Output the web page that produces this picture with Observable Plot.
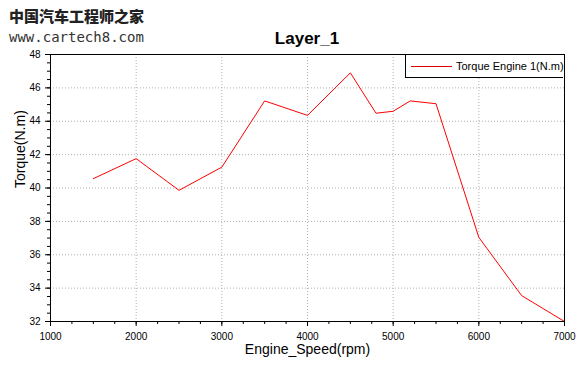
<!DOCTYPE html>
<html>
<head>
<meta charset="utf-8">
<script src="https://cdn.jsdelivr.net/npm/d3@7"></script>
<script src="https://cdn.jsdelivr.net/npm/@observablehq/plot@0.6"></script>
<style>
  html, body { margin: 0; padding: 0; background: #fff; }
  #wrap { position: relative; width: 584px; height: 386px; overflow: hidden; }
  #wm1 { position: absolute; left: 9px; top: 5px; font-family: "Noto Sans CJK SC"; font-weight: 900; font-size: 15px; color: #222; }
  #wm2 { position: absolute; left: 9px; top: 29px; font-family: "DejaVu Sans Mono"; font-size: 14px; color: #333; }
  #title { position: absolute; left: 207px; width: 200px; top: 29px; text-align: center; font-family: "Liberation Sans", Arial, sans-serif; font-weight: bold; font-size: 17px; line-height: 20px; color: #000; }
  #legend { position: absolute; left: 405px; top: 54px; width: 158px; height: 24px; border: 1px solid #000; border-right: none; box-sizing: border-box; background: #fff; font-family: "Liberation Sans", Arial, sans-serif; font-size: 11px; }
  #legend .sw { position: absolute; left: 5px; top: 11px; width: 41px; height: 1px; background: #e00000; }
  #legend .tx { position: absolute; left: 50px; top: 5px; white-space: nowrap; }
</style>
</head>
<body>
<div id="wrap">
  <div id="chart"></div>
  <div id="wm1">中国汽车工程师之家</div>
  <div id="wm2">www.cartech8.com</div>
  <div id="title"></div>
  <div id="legend"><div class="sw"></div><div class="tx">Torque Engine 1(N.m)</div></div>
</div>
<script>
const speeds = [1500, 2000, 2500, 3000, 3500, 4000, 4500, 4800, 5000, 5200, 5500, 6000, 6500, 7000];
const torque = [40.56, 41.76, 39.86, 41.25, 45.22, 44.35, 46.9, 44.48, 44.6, 45.22, 45.05, 37.04, 33.55, 32.0];
const xTicks = [1000, 2000, 3000, 4000, 5000, 6000, 7000];
const yTicks = [32, 34, 36, 38, 40, 42, 44, 46, 48];
const title = "Layer_1";
const xLabel = "Engine_Speed(rpm)";
const yLabel = "Torque(N.m)";

document.getElementById("title").textContent = title;

const data = speeds.map((s, i) => ({speed: s, torque: torque[i]}));
const xMinor = d3.range(1000, 7001, 250);
const yMinor = d3.range(32, 48.01, 0.5);

const chart = Plot.plot({
  width: 584,
  height: 386,
  marginLeft: 50,
  marginRight: 20,
  marginTop: 54,
  marginBottom: 65,
  style: {fontFamily: "Liberation Sans, Arial, sans-serif", fontSize: "10px", background: "#fff", color: "#000"},
  x: {domain: [1000, 7000], label: null},
  y: {domain: [32, 48], label: null},
  marks: [
    Plot.gridX(xTicks, {stroke: "#b0b0b0", strokeOpacity: 1, strokeDasharray: "1,2"}),
    Plot.gridY(yTicks, {stroke: "#b0b0b0", strokeOpacity: 1, strokeDasharray: "1,2"}),
    Plot.axisX(xMinor, {tickSize: 3, text: null, label: null}),
    Plot.axisY(yMinor, {tickSize: 3, text: null, label: null}),
    Plot.axisX(xTicks, {tickSize: 5, tickPadding: 6, label: null, tickFormat: d => String(d)}),
    Plot.axisY(yTicks, {tickSize: 5, tickPadding: 5, label: null}),
    Plot.line(data, {x: "speed", y: "torque", stroke: "#ff0000", strokeWidth: 1}),
    Plot.frame({stroke: "#000", strokeWidth: 1}),
    Plot.text([xLabel], {frameAnchor: "bottom", dy: 32, text: d => d, fontSize: 14}),
    Plot.text([yLabel], {frameAnchor: "left", dx: -30, rotate: -90, text: d => d, fontSize: 14})
  ]
});
document.getElementById("chart").appendChild(chart);
</script>
</body>
</html>
